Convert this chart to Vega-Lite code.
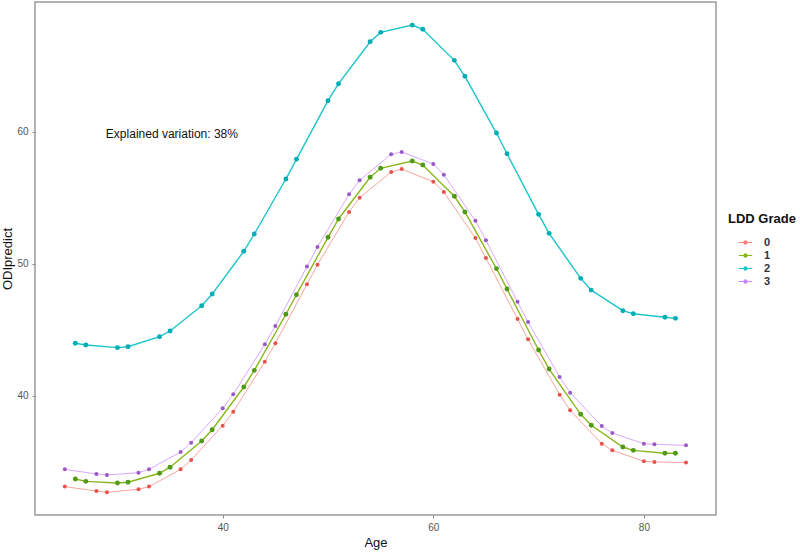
{
  "$schema": "https://vega.github.io/schema/vega-lite/v6.json",
  "autosize": "none",
  "width": 681,
  "height": 513,
  "padding": {"left": 35, "top": 2, "right": 84, "bottom": 37},
  "background": "white",
  "config": {
    "view": {"stroke": "#9a9a9a", "strokeWidth": 1.5},
    "font": "Liberation Sans"
  },
  "datasets": {
    "pred": [
      {"grade": "0", "age": 25, "odi": 33.11},
      {"grade": "0", "age": 28, "odi": 32.78},
      {"grade": "0", "age": 29, "odi": 32.68},
      {"grade": "0", "age": 32, "odi": 32.91},
      {"grade": "0", "age": 33, "odi": 33.11},
      {"grade": "0", "age": 36, "odi": 34.42},
      {"grade": "0", "age": 37, "odi": 35.13},
      {"grade": "0", "age": 40, "odi": 37.73},
      {"grade": "0", "age": 41, "odi": 38.79},
      {"grade": "0", "age": 44, "odi": 42.58},
      {"grade": "0", "age": 45, "odi": 43.97},
      {"grade": "0", "age": 48, "odi": 48.44},
      {"grade": "0", "age": 49, "odi": 49.92},
      {"grade": "0", "age": 52, "odi": 53.92},
      {"grade": "0", "age": 53, "odi": 55.0},
      {"grade": "0", "age": 56, "odi": 56.95},
      {"grade": "0", "age": 57, "odi": 57.17},
      {"grade": "0", "age": 60, "odi": 56.21},
      {"grade": "0", "age": 61, "odi": 55.43},
      {"grade": "0", "age": 64, "odi": 51.95},
      {"grade": "0", "age": 65, "odi": 50.43},
      {"grade": "0", "age": 68, "odi": 45.81},
      {"grade": "0", "age": 69, "odi": 44.27},
      {"grade": "0", "age": 72, "odi": 40.08},
      {"grade": "0", "age": 73, "odi": 38.89},
      {"grade": "0", "age": 76, "odi": 36.36},
      {"grade": "0", "age": 77, "odi": 35.86},
      {"grade": "0", "age": 80, "odi": 35.03},
      {"grade": "0", "age": 81, "odi": 34.98},
      {"grade": "0", "age": 84, "odi": 34.93},
      {"grade": "1", "age": 26, "odi": 33.69},
      {"grade": "1", "age": 27, "odi": 33.51},
      {"grade": "1", "age": 30, "odi": 33.39},
      {"grade": "1", "age": 31, "odi": 33.44},
      {"grade": "1", "age": 34, "odi": 34.12},
      {"grade": "1", "age": 35, "odi": 34.58},
      {"grade": "1", "age": 38, "odi": 36.57},
      {"grade": "1", "age": 39, "odi": 37.42},
      {"grade": "1", "age": 42, "odi": 40.66},
      {"grade": "1", "age": 43, "odi": 41.92},
      {"grade": "1", "age": 46, "odi": 46.17},
      {"grade": "1", "age": 47, "odi": 47.65},
      {"grade": "1", "age": 50, "odi": 52.0},
      {"grade": "1", "age": 51, "odi": 53.39},
      {"grade": "1", "age": 54, "odi": 56.55},
      {"grade": "1", "age": 55, "odi": 57.23},
      {"grade": "1", "age": 58, "odi": 57.78},
      {"grade": "1", "age": 59, "odi": 57.48},
      {"grade": "1", "age": 62, "odi": 55.11},
      {"grade": "1", "age": 63, "odi": 53.92},
      {"grade": "1", "age": 66, "odi": 49.63},
      {"grade": "1", "age": 67, "odi": 48.08},
      {"grade": "1", "age": 70, "odi": 43.46},
      {"grade": "1", "age": 71, "odi": 42.02},
      {"grade": "1", "age": 74, "odi": 38.59},
      {"grade": "1", "age": 75, "odi": 37.76},
      {"grade": "1", "age": 78, "odi": 36.11},
      {"grade": "1", "age": 79, "odi": 35.86},
      {"grade": "1", "age": 82, "odi": 35.64},
      {"grade": "1", "age": 83, "odi": 35.64},
      {"grade": "2", "age": 26, "odi": 43.97},
      {"grade": "2", "age": 27, "odi": 43.84},
      {"grade": "2", "age": 30, "odi": 43.64},
      {"grade": "2", "age": 31, "odi": 43.71},
      {"grade": "2", "age": 34, "odi": 44.47},
      {"grade": "2", "age": 35, "odi": 44.9},
      {"grade": "2", "age": 38, "odi": 46.82},
      {"grade": "2", "age": 39, "odi": 47.7},
      {"grade": "2", "age": 42, "odi": 50.94},
      {"grade": "2", "age": 43, "odi": 52.25},
      {"grade": "2", "age": 46, "odi": 56.42},
      {"grade": "2", "age": 47, "odi": 57.91},
      {"grade": "2", "age": 50, "odi": 62.35},
      {"grade": "2", "age": 51, "odi": 63.64},
      {"grade": "2", "age": 54, "odi": 66.82},
      {"grade": "2", "age": 55, "odi": 67.53},
      {"grade": "2", "age": 58, "odi": 68.08},
      {"grade": "2", "age": 59, "odi": 67.76},
      {"grade": "2", "age": 62, "odi": 65.41},
      {"grade": "2", "age": 63, "odi": 64.2},
      {"grade": "2", "age": 66, "odi": 59.9},
      {"grade": "2", "age": 67, "odi": 58.33},
      {"grade": "2", "age": 70, "odi": 53.74},
      {"grade": "2", "age": 71, "odi": 52.3},
      {"grade": "2", "age": 74, "odi": 48.89},
      {"grade": "2", "age": 75, "odi": 48.0},
      {"grade": "2", "age": 78, "odi": 46.44},
      {"grade": "2", "age": 79, "odi": 46.21},
      {"grade": "2", "age": 82, "odi": 45.94},
      {"grade": "2", "age": 83, "odi": 45.86},
      {"grade": "3", "age": 25, "odi": 34.42},
      {"grade": "3", "age": 28, "odi": 34.07},
      {"grade": "3", "age": 29, "odi": 33.99},
      {"grade": "3", "age": 32, "odi": 34.17},
      {"grade": "3", "age": 33, "odi": 34.42},
      {"grade": "3", "age": 36, "odi": 35.73},
      {"grade": "3", "age": 37, "odi": 36.44},
      {"grade": "3", "age": 40, "odi": 39.05},
      {"grade": "3", "age": 41, "odi": 40.11},
      {"grade": "3", "age": 44, "odi": 43.89},
      {"grade": "3", "age": 45, "odi": 45.28},
      {"grade": "3", "age": 48, "odi": 49.78},
      {"grade": "3", "age": 49, "odi": 51.27},
      {"grade": "3", "age": 52, "odi": 55.26},
      {"grade": "3", "age": 53, "odi": 56.32},
      {"grade": "3", "age": 56, "odi": 58.29},
      {"grade": "3", "age": 57, "odi": 58.47},
      {"grade": "3", "age": 60, "odi": 57.55},
      {"grade": "3", "age": 61, "odi": 56.74},
      {"grade": "3", "age": 64, "odi": 53.26},
      {"grade": "3", "age": 65, "odi": 51.77},
      {"grade": "3", "age": 68, "odi": 47.12},
      {"grade": "3", "age": 69, "odi": 45.58},
      {"grade": "3", "age": 72, "odi": 41.42},
      {"grade": "3", "age": 73, "odi": 40.23},
      {"grade": "3", "age": 76, "odi": 37.7},
      {"grade": "3", "age": 77, "odi": 37.17},
      {"grade": "3", "age": 80, "odi": 36.36},
      {"grade": "3", "age": 81, "odi": 36.32},
      {"grade": "3", "age": 84, "odi": 36.24}
    ],
    "note": [
      {"age": 28.9, "odi": 59.8, "label": "Explained variation: 38%"}
    ]
  },
  "layer": [
    {
      "data": {"name": "pred"},
      "transform": [{"filter": {"field": "grade", "oneOf": ["0", "3"]}}],
      "mark": {"type": "line", "opacity": 0.85, "strokeWidth": 0.8},
      "encoding": {
        "x": {
          "field": "age", "type": "quantitative",
          "scale": {"domain": [22.17, 86.85], "nice": false, "zero": false},
          "axis": {
            "title": "Age", "values": [40, 60, 80], "grid": false, "domain": false,
            "tickColor": "#8a8a8a", "tickSize": 3, "labelColor": "#555555", "labelFontSize": 10,
            "labelPadding": 4, "titleFontSize": 13, "titleFontWeight": "normal", "titleColor": "#111111",
            "titlePadding": 4
          }
        },
        "y": {
          "field": "odi", "type": "quantitative",
          "scale": {"domain": [30.96, 69.83], "nice": false, "zero": false},
          "axis": {
            "title": "ODIpredict", "values": [40, 50, 60], "grid": false, "domain": false,
            "tickColor": "#8a8a8a", "tickSize": 3, "labelColor": "#555555", "labelFontSize": 10,
            "labelPadding": 4, "titleFontSize": 13, "titleFontWeight": "normal", "titleColor": "#111111",
            "titlePadding": 2
          }
        },
        "color": {
          "field": "grade", "type": "nominal",
          "scale": {"domain": ["0", "1", "2", "3"], "range": ["#F8766D", "#7CAE00", "#00BFC4", "#C77CFF"]},
          "legend": {
            "title": "LDD Grade", "orient": "none", "legendX": 693, "legendY": 211,
            "titleFontSize": 13, "titleFontWeight": "bold", "titleColor": "#111111", "titlePadding": 9,
            "labelFontSize": 11, "labelColor": "#333333", "labelFontWeight": "bold",
            "symbolType": "M-1,0L1,0M-0.24,0a0.24,0.24 0 1,0 0.48,0a0.24,0.24 0 1,0 -0.48,0",
            "symbolSize": 180, "symbolStrokeWidth": 1.2, "symbolOffset": 10, "rowPadding": 0, "labelOffset": 11,
            "symbolOpacity": 0.9,
            "padding": 0
          }
        }
      }
    },
    {
      "data": {"name": "pred"},
      "transform": [{"filter": {"field": "grade", "oneOf": ["1", "2"]}}],
      "mark": {"type": "line", "opacity": 0.9, "strokeWidth": 1.4},
      "encoding": {
        "x": {"field": "age", "type": "quantitative"},
        "y": {"field": "odi", "type": "quantitative"},
        "color": {"field": "grade", "type": "nominal"}
      }
    },
    {
      "data": {"name": "pred"},
      "transform": [{"filter": {"field": "grade", "oneOf": ["0", "3"]}}],
      "mark": {"type": "point", "filled": true, "opacity": 1, "size": 16},
      "encoding": {
        "x": {"field": "age", "type": "quantitative"},
        "y": {"field": "odi", "type": "quantitative"},
        "color": {"field": "grade", "type": "nominal"},
        "fill": {
          "field": "grade", "type": "nominal",
          "scale": {"domain": ["0", "1", "2", "3"], "range": ["#E8524A", "#4E9A14", "#00ADB5", "#9B59C6"]},
          "legend": null
        }
      }
    },
    {
      "data": {"name": "pred"},
      "transform": [{"filter": {"field": "grade", "oneOf": ["1", "2"]}}],
      "mark": {"type": "point", "filled": true, "opacity": 1, "size": 24},
      "encoding": {
        "x": {"field": "age", "type": "quantitative"},
        "y": {"field": "odi", "type": "quantitative"},
        "color": {"field": "grade", "type": "nominal"},
        "fill": {"field": "grade", "type": "nominal", "legend": null}
      }
    },
    {
      "data": {"name": "note"},
      "mark": {"type": "text", "align": "left", "baseline": "middle", "fontSize": 12, "color": "#111111"},
      "encoding": {
        "x": {"field": "age", "type": "quantitative"},
        "y": {"field": "odi", "type": "quantitative"},
        "text": {"field": "label"}
      }
    }
  ]
}
